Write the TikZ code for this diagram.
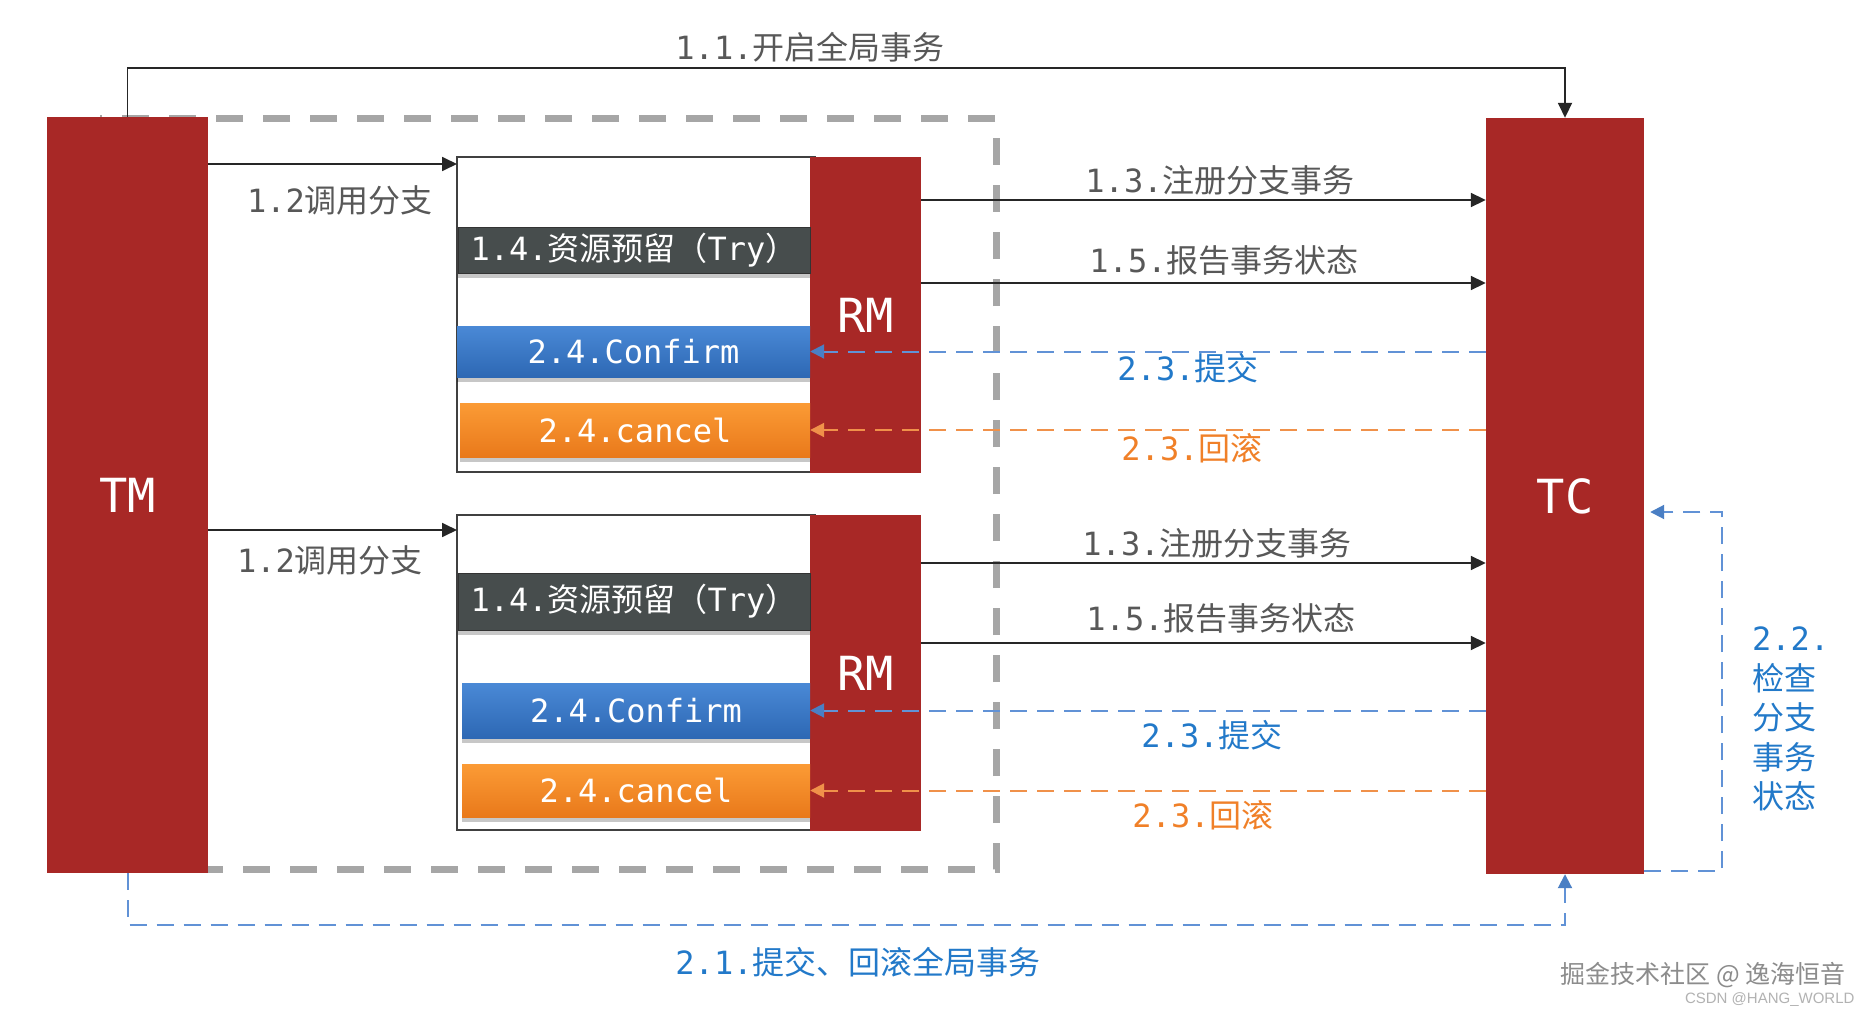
\documentclass[tikz,border=0pt]{standalone}
\usepackage{fontspec}
\setmainfont{DejaVu Sans Mono}
\newfontfamily\cjk{Noto Sans CJK SC}
\newfontfamily\mono{DejaVu Sans Mono}
\newfontfamily\wmfont{Liberation Sans}
\usetikzlibrary{arrows.meta,calc,shadows}
\definecolor{tred}{HTML}{A82826}
\definecolor{trygray}{HTML}{474D4D}
\definecolor{cfTop}{HTML}{4A89D6}
\definecolor{cfBot}{HTML}{2D68B4}
\definecolor{caTop}{HTML}{FB9B35}
\definecolor{caBot}{HTML}{E9791B}
\definecolor{lblgray}{HTML}{585858}
\definecolor{lblblue}{HTML}{2279C9}
\definecolor{lblorange}{HTML}{F08028}
\definecolor{dashblue}{HTML}{6192D6}
\definecolor{tipblue}{HTML}{4A7FC4}
\definecolor{dashorange}{HTML}{F0914A}
\definecolor{framegray}{HTML}{A6A6A6}
\definecolor{boxline}{HTML}{404040}
\newcommand\mn[1]{{\mono #1}}
\newcommand\cj[1]{{\cjk #1}}
\tikzset{
  redbox/.style={fill=tred, draw=none, text=white, font=\fontsize{47}{50}\selectfont\mono, inner sep=0pt},
  opbox/.style={text=white, font=\fontsize{32}{36}\selectfont\mono, inner sep=0pt,
     drop shadow={shadow xshift=0pt, shadow yshift=-5pt, opacity=0.22, fill=black}},
  trybox/.style={opbox, fill=trygray, draw=black!80, line width=1pt},
  cfbox/.style={opbox, top color=cfTop, bottom color=cfBot},
  cabox/.style={opbox, top color=caTop, bottom color=caBot},
  outerbox/.style={draw=boxline, fill=white, line width=2.5pt, inner sep=0pt},
  lbl/.style={font=\fontsize{32}{38}\selectfont, text=lblgray, inner sep=0pt},
  blbl/.style={lbl, text=lblblue},
  olbl/.style={lbl, text=lblorange},
  arr/.style={draw=black!85, line width=1.8pt, -{Triangle[length=15pt,width=14pt]}},
  bdash/.style={draw=dashblue, line width=2pt, dash pattern=on 17pt off 10pt, -{Triangle[length=14pt,width=14pt,color=tipblue]}},
  odash/.style={draw=dashorange, line width=2pt, dash pattern=on 17pt off 10pt, -{Triangle[length=14pt,width=14pt]}},
  gframe/.style={draw=framegray, line width=7pt, dash pattern=on 27pt off 20pt},
}
\begin{document}
\begin{tikzpicture}[x=1pt,y=-1pt]
\fill[white] (0,0) rectangle (1872,1014);
\useasboundingbox (0,0) rectangle (1872,1014);

% gray dashed frame
\draw[gframe] (100,119) rectangle (996,869);

% outer boxes
\node[outerbox, minimum width=358pt, minimum height=315pt] (ob1) at (636,314.5) {};
\node[outerbox, minimum width=358pt, minimum height=315pt] (ob2) at (636,672.5) {};

% RM boxes
\node[redbox, minimum width=111pt, minimum height=316pt] (rm1) at (865.5,315) {RM};
\node[redbox, minimum width=111pt, minimum height=316pt] (rm2) at (865.5,673) {RM};

% operation boxes upper
\node[trybox, minimum width=352pt, minimum height=46pt] (t1) at (634,250) {\mn{1.4.}\cj{资源预留（}\mn{Try}\cj{）}};
\node[cfbox, minimum width=353pt, minimum height=51pt] (c1) at (633.5,351.5) {2.4.Confirm};
\node[cabox, minimum width=350pt, minimum height=54pt] (k1) at (635,430) {2.4.cancel};
% operation boxes lower
\node[trybox, minimum width=352pt, minimum height=57pt] (t2) at (634,601.5) {\mn{1.4.}\cj{资源预留（}\mn{Try}\cj{）}};
\node[cfbox, minimum width=348pt, minimum height=55pt] (c2) at (636,710.5) {2.4.Confirm};
\node[cabox, minimum width=348pt, minimum height=53pt] (k2) at (636,790.5) {2.4.cancel};

% TM and TC
\node[redbox, minimum width=161pt, minimum height=756pt] (tm) at (127.5,495) {TM};
\node[redbox, minimum width=158pt, minimum height=756pt] (tc) at (1565,496) {TC};

% 1.1
\draw[arr] (tm.north) -- ++(0,-49) -| (tc.north);
\node[lbl] (l11) at (810,47) {\mn{1.1.}\cj{开启全局事务}};

% 1.2 arrows
\coordinate (y12a) at (457,164);
\coordinate (y12b) at (457,530);
\draw[arr] (y12a -| tm.east) -- (y12a);
\draw[arr] (y12b -| tm.east) -- (y12b);
\node[lbl] (l12a) at (340,200) {\mn{1.2}\cj{调用分支}};
\node[lbl] (l12b) at (330,560) {\mn{1.2}\cj{调用分支}};

% 1.3 / 1.5
\coordinate (y13a) at (921,200);
\coordinate (y15a) at (921,283);
\coordinate (y13b) at (921,563);
\coordinate (y15b) at (921,643);
\draw[arr] (y13a) -- (y13a -| tc.west);
\draw[arr] (y15a) -- (y15a -| tc.west);
\draw[arr] (y13b) -- (y13b -| tc.west);
\draw[arr] (y15b) -- (y15b -| tc.west);
\node[lbl] (l13a) at (1220,180) {\mn{1.3.}\cj{注册分支事务}};
\node[lbl] (l15a) at (1224,260) {\mn{1.5.}\cj{报告事务状态}};
\node[lbl] (l13b) at (1217,543) {\mn{1.3.}\cj{注册分支事务}};
\node[lbl] (l15b) at (1221,618) {\mn{1.5.}\cj{报告事务状态}};

% 2.3 dashed
\draw[bdash] (c1.east -| tc.west) -- (c1.east);
\draw[odash] (k1.east -| tc.west) -- (k1.east);
\draw[bdash] (c2.east -| tc.west) -- (c2.east);
\draw[odash] (k2.east -| tc.west) -- (k2.east);
\node[blbl] (l23a) at (1188,368) {\mn{2.3.}\cj{提交}};
\node[olbl] (l23b) at (1192,448) {\mn{2.3.}\cj{回滚}};
\node[blbl] (l23c) at (1212,735) {\mn{2.3.}\cj{提交}};
\node[olbl] (l23d) at (1203,815) {\mn{2.3.}\cj{回滚}};

% 2.1
\draw[bdash] (tm.south) -- ++(0,52) -| (tc.south);
\node[blbl] (l21) at (858,962) {\mn{2.1.}\cj{提交、回滚全局事务}};

% 2.2
\draw[bdash] ([yshift=3pt]tc.south east) -- ++(78,0) |- ([shift={(6,16)}]tc.east);
\node[blbl, align=left, anchor=west, font=\fontsize{32}{39.5}\selectfont] (l22) at (1752,719)
  {\mn{2.2.}\\\cj{检查}\\\cj{分支}\\\cj{事务}\\\cj{状态}};

% watermark
\node[font=\cjk\fontsize{25}{28}\selectfont, text=black!45] (wm1) at (1703,975) {掘金技术社区 @ 逸海恒音};
\node[font=\wmfont\fontsize{15}{17}\selectfont, text=black!30, anchor=east] (wm2) at (1858,1000) {CSDN @HANG\_WORLD};
\end{tikzpicture}
\end{document}
